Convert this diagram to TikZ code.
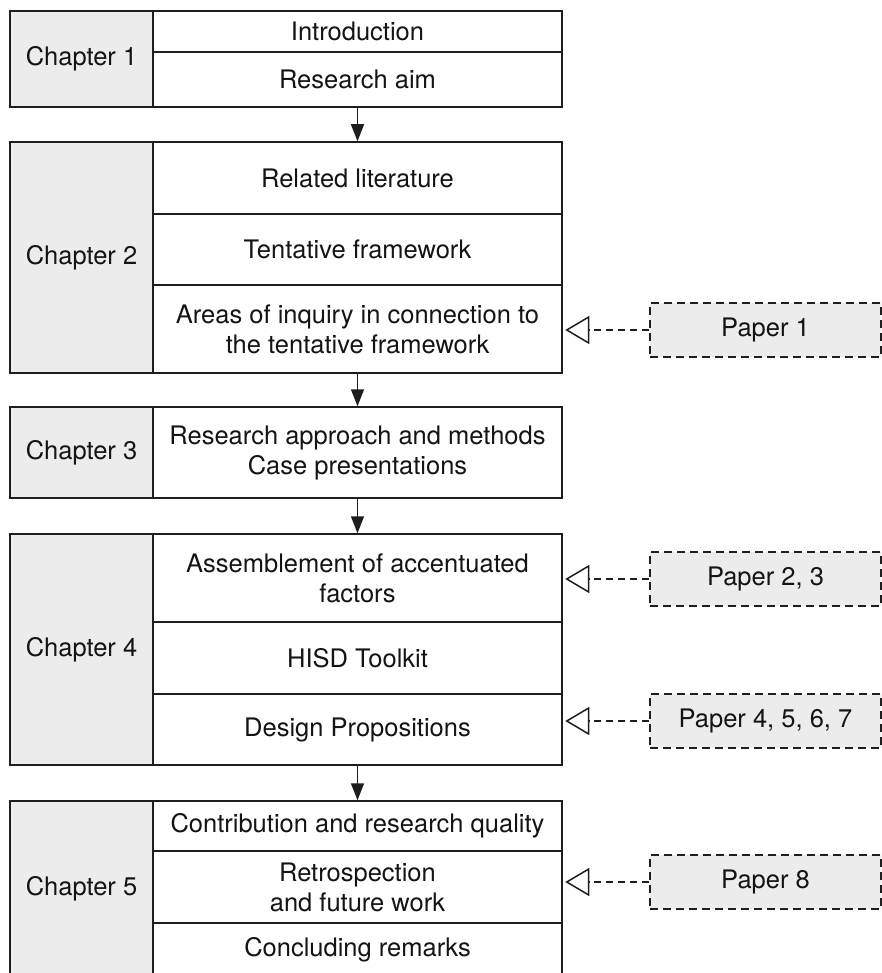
\documentclass[tikz,border=0pt]{standalone}
\usepackage{fontspec}
\setmainfont{TeX Gyre Heros}
\usetikzlibrary{arrows.meta}
\definecolor{greyfill}{RGB}{236,236,236}
\definecolor{linec}{RGB}{30,30,30}
\begin{document}
\begin{tikzpicture}[x=1pt,y=-1pt,
  every node/.style={font=\fontsize{25.5}{30}\selectfont, text=black!92},
  rowbox/.style={draw=linec, line width=1.5pt, fill=white, minimum width=409pt, inner sep=0pt, align=center, anchor=center},
  chapbox/.style={draw=linec, line width=1.5pt, fill=greyfill, minimum width=143pt, inner sep=0pt, align=center},
  paperbox/.style={draw=linec, dash pattern=on 8pt off 5pt, line width=1.5pt, fill=greyfill, minimum width=231pt, minimum height=54pt, inner sep=0pt},
  flow/.style={draw=linec, line width=1.5pt, -{Triangle[length=17pt,width=13pt]}},
  feed/.style={draw=linec, line width=1.5pt, dash pattern=on 7pt off 5pt, -{Triangle[open,length=24pt,width=28pt]}, shorten >=2.5pt}
]
\useasboundingbox (0,0) rectangle (882,973);
\clip (0,0) rectangle (882,973);
\fill[white] (0,0) rectangle (882,973);

% Chapter 1
\node[chapbox, minimum height=96pt] (c1) at (81.5,59) {Chapter 1};
\node[rowbox, minimum height=41pt] (r11) at (357.5,31.5) {Introduction};
\node[rowbox, minimum height=55pt] (r12) at (357.5,79.5) {Research aim};

% Chapter 2
\node[chapbox, minimum height=231pt] (c2) at (81.5,257.5) {Chapter 2};
\node[rowbox, minimum height=72pt] (r21) at (357.5,178) {Related literature};
\node[rowbox, minimum height=71pt] (r22) at (357.5,249.5) {Tentative framework};
\node[rowbox, minimum height=88pt] (r23) at (357.5,329) {Areas of inquiry in connection to\\the tentative framework};

% Chapter 3
\node[chapbox, minimum height=91pt] (c3) at (81.5,452.5) {Chapter 3};
\node[rowbox, minimum height=91pt] (r31) at (357.5,452.5) {Research approach and methods\\Case presentations};

% Chapter 4
\node[chapbox, minimum height=231pt] (c4) at (81.5,649.5) {Chapter 4};
\node[rowbox, minimum height=88pt] (r41) at (357.5,578) {Assemblement of accentuated\\factors};
\node[rowbox, minimum height=72pt] (r42) at (357.5,658) {HISD Toolkit};
\node[rowbox, minimum height=71pt] (r43) at (357.5,729.5) {Design Propositions};

% Chapter 5
\node[chapbox, minimum height=176pt] (c5) at (81.5,889) {Chapter 5};
\node[rowbox, minimum height=50pt] (r51) at (357.5,826) {Contribution and research quality};
\node[rowbox, minimum height=72pt] (r52) at (357.5,887) {Retrospection\\and future work};
\node[rowbox, minimum height=54pt] (r53) at (357.5,950) {Concluding remarks};

% Papers
\node[paperbox] (p1) at (765.5,330) {Paper 1};
\node[paperbox] (p2) at (765.5,579) {Paper 2, 3};
\node[paperbox] (p4) at (765.5,721) {Paper 4, 5, 6, 7};
\node[paperbox] (p8) at (765.5,882) {Paper 8};

% Flow arrows
\draw[flow] (r12.south) -- (r21.north);
\draw[flow] (r23.south) -- (r31.north);
\draw[flow] (r31.south) -- (r41.north);
\draw[flow] (r43.south) -- (r51.north);

% Feedback arrows
\draw[feed] (p1.west) -- (r23.east |- p1.west);
\draw[feed] (p2.west) -- (r41.east |- p2.west);
\draw[feed] (p4.west) -- (r43.east |- p4.west);
\draw[feed] (p8.west) -- (r52.east |- p8.west);
\end{tikzpicture}
\end{document}
